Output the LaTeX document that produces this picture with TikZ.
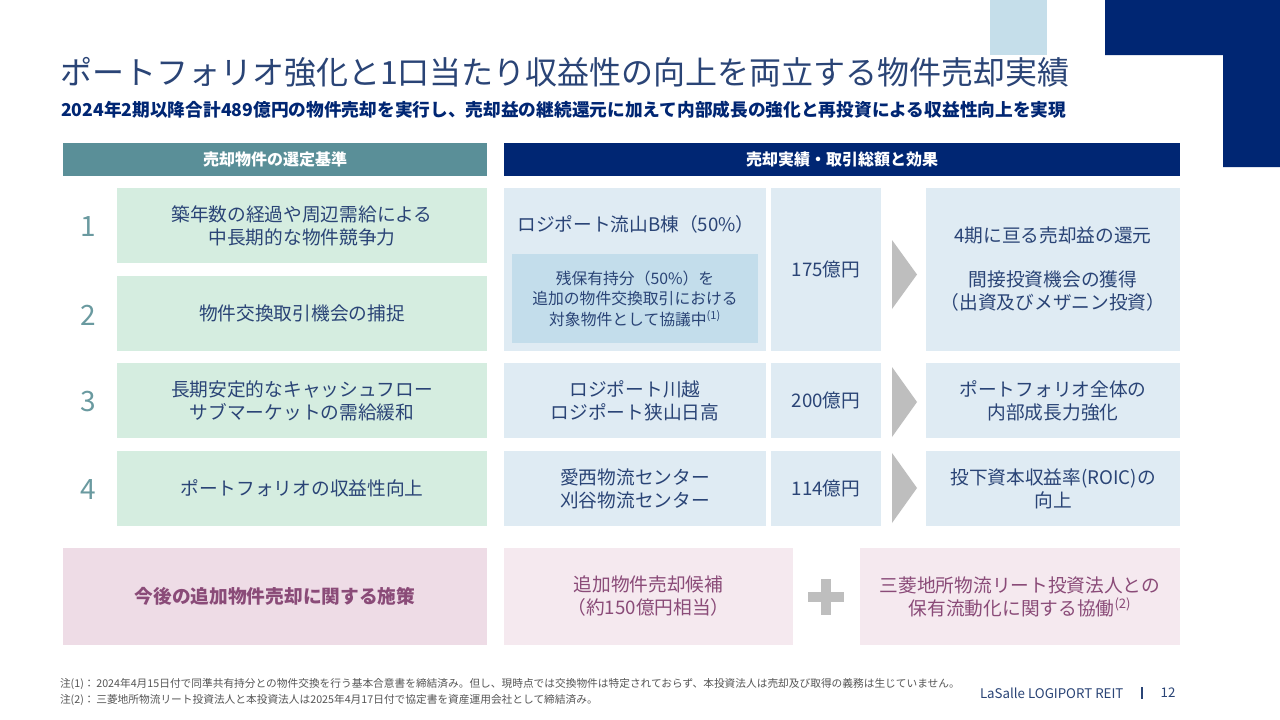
\documentclass[tikz,border=0pt]{standalone}
\usepackage{fontspec}
\setmainfont{Noto Sans CJK JP}
\definecolor{navy}{HTML}{002673}
\definecolor{deco}{HTML}{C5DEEA}
\definecolor{teal}{HTML}{5A8F98}
\definecolor{gbox}{HTML}{D5EDE0}
\definecolor{bbox}{HTML}{DFEBF3}
\definecolor{ibox}{HTML}{C3DDEB}
\definecolor{arr}{HTML}{BEBEBE}
\definecolor{pinkd}{HTML}{EEDCE6}
\definecolor{pinkl}{HTML}{F5E9EF}
\definecolor{ptxt}{HTML}{8A4B78}
\definecolor{txt}{HTML}{2A4476}
\definecolor{numc}{HTML}{6A9AA0}
\definecolor{note}{HTML}{555555}
\begin{document}
\begin{tikzpicture}[x=1pt,y=-1pt,
  every node/.style={inner sep=0pt,outer sep=0pt},
  hdr/.style={text=white,font=\fontsize{16}{18}\selectfont\bfseries,minimum height=33},
  gb/.style={fill=gbox,text=txt,align=center,minimum width=370,minimum height=75,font=\fontsize{18.7}{23}\selectfont},
  bb/.style={fill=bbox,text=txt,align=center,minimum height=75,font=\fontsize{18.7}{23}\selectfont},
  num/.style={text=numc,font=\fontsize{28}{30}\selectfont},
  tri/.style={fill=arr},
  pk/.style={text=ptxt,align=center,minimum height=97,font=\fontsize{18.7}{23}\selectfont},
  fn/.style={text=note,anchor=west,font=\fontsize{10.7}{12}\selectfont}]
\useasboundingbox (0,0) rectangle (1280,720);
\fill[white] (0,0) rectangle (1280,720);
% decoration
\fill[deco] (990,0) rectangle (1047,55);
\fill[navy] (1105,0) -- (1280,0) -- (1280,167) -- (1223,167) -- (1223,55) -- (1105,55) -- cycle;
% title
\node[anchor=west,text=txt,font=\fontsize{32}{36}\selectfont] (title) at (60,72) {ポートフォリオ強化と1口当たり収益性の向上を両立する物件売却実績};
\node[anchor=west,text=navy,font=\fontsize{17.7}{20}\selectfont\bfseries] (sub) at (61,110) {2024年2期以降合計489億円の物件売却を実行し、売却益の継続還元に加えて内部成長の強化と再投資による収益性向上を実現};
% headers
\node[hdr,fill=teal,minimum width=424] (h1) at (275,159.5) {売却物件の選定基準};
\node[hdr,fill=navy,minimum width=676] (h2) at (842,159.5) {売却実績・取引総額と効果};
% criteria
\node[num] (n1) at (88,227) {1};
\node[num] (n2) at (88,315) {2};
\node[num] (n3) at (88,402) {3};
\node[num] (n4) at (88,490) {4};
\node[gb] (c1) at (302,225.5) {築年数の経過や周辺需給による\\中長期的な物件競争力};
\node[gb] (c2) at (302,313.5) {物件交換取引機会の捕捉};
\node[gb] (c3) at (302,400.5) {長期安定的なキャッシュフロー\\サブマーケットの需給緩和};
\node[gb] (c4) at (302,488.5) {ポートフォリオの収益性向上};
% results row 1
\node[bb,minimum width=262,minimum height=163] (m1) at (635,269.5) {};
\node[text=txt,font=\fontsize{18.7}{23}\selectfont] (m1t) at (636,224) {ロジポート流山B棟（50\%）};
\node[fill=ibox,text=txt,align=center,minimum width=246,minimum height=89,font=\fontsize{15.8}{20.5}\selectfont] (m1i) at (635,298.5) {残保有持分（50\%）を\\追加の物件交換取引における\\対象物件として協議中\textsuperscript{(1)}};
\node[bb,minimum width=110,minimum height=163] (a1) at (826,269.5) {175億円};
\node[bb,minimum width=254,minimum height=163] (r1) at (1053,269.5) {4期に亘る売却益の還元\\[21pt]間接投資機会の獲得\\（出資及びメザニン投資）};
% row 3
\node[bb,minimum width=262] (m3) at (635,400.5) {ロジポート川越\\ロジポート狭山日高};
\node[bb,minimum width=110] (a3) at (826,400.5) {200億円};
\node[bb,minimum width=254] (r3) at (1053,400.5) {ポートフォリオ全体の\\内部成長力強化};
% row 4
\node[bb,minimum width=262] (m4) at (635,488.5) {愛西物流センター\\刈谷物流センター};
\node[bb,minimum width=110] (a4) at (826,488.5) {114億円};
\node[bb,minimum width=254] (r4) at (1053,488.5) {投下資本収益率(ROIC)の\\向上};
% arrows
\fill[tri] (892,240) -- (917,274.5) -- (892,309) -- cycle;
\fill[tri] (892,367) -- (917,402) -- (892,437) -- cycle;
\fill[tri] (892,453) -- (917,488) -- (892,523) -- cycle;
% bottom row
\node[pk,fill=pinkd,minimum width=424,font=\fontsize{18.7}{23}\selectfont\bfseries] (p1) at (275,596.5) {今後の追加物件売却に関する施策};
\node[pk,fill=pinkl,minimum width=289] (p2) at (648.5,596.5) {追加物件売却候補\\（約150億円相当）};
\node[pk,fill=pinkl,minimum width=320] (p3) at (1020,596.5) {三菱地所物流リート投資法人との\\保有流動化に関する協働\textsuperscript{(2)}};
\fill[arr] (821,579) rectangle (831,615);
\fill[arr] (808,592) rectangle (844,602);
% footnotes
\node[fn] (f1) at (60,684) {注(1)：\,2024年4月15日付で同準共有持分との物件交換を行う基本合意書を締結済み。但し、現時点では交換物件は特定されておらず、本投資法人は売却及び取得の義務は生じていません。};
\node[fn] (f2) at (60,700) {注(2)：\,三菱地所物流リート投資法人と本投資法人は2025年4月17日付で協定書を資産運用会社として締結済み。};
\node[anchor=west,text=txt,font=\fontsize{13.3}{15}\selectfont] (foot) at (980,693) {LaSalle LOGIPORT REIT};
\fill[txt] (1141,687) rectangle (1142.6,699);
\node[text=txt,font=\fontsize{13.3}{15}\selectfont] (page) at (1168,693) {12};
\end{tikzpicture}
\end{document}
